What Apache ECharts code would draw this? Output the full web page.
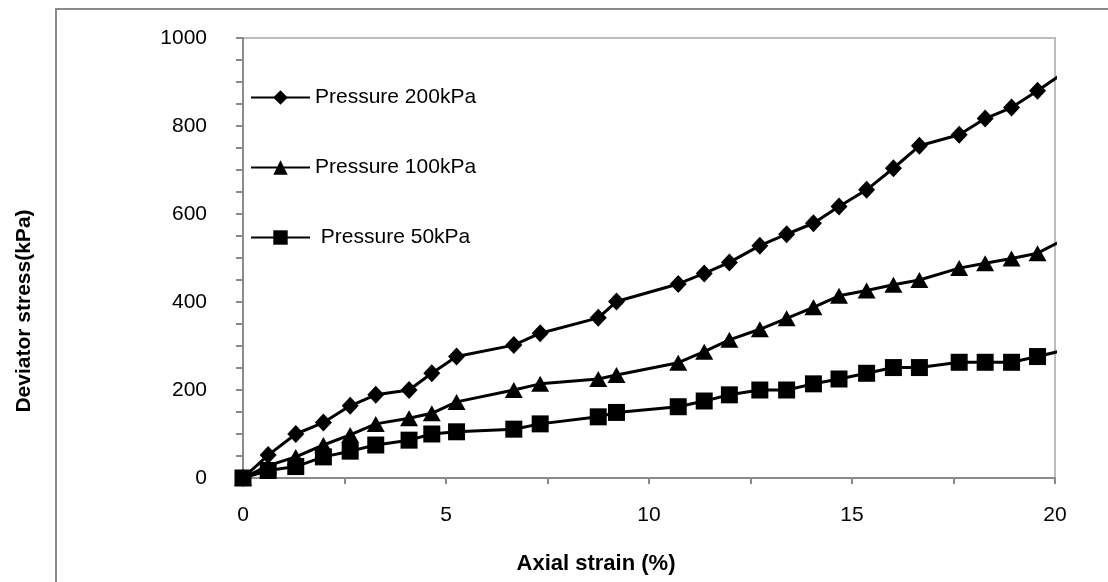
<!DOCTYPE html>
<html>
<head>
<meta charset="utf-8">
<script src="https://cdn.jsdelivr.net/npm/echarts@6/dist/echarts.min.js"></script>
<style>
  html, body { margin: 0; padding: 0; background: #fff; }
  #chart { width: 1108px; height: 582px; }
</style>
</head>
<body>
<div id="chart"></div>
<script>
// axial strain (%) shared by the three tests; last point lies just past the axis end
const strain = [0, 0.62, 1.30, 1.98, 2.64, 3.27, 4.09, 4.65, 5.26, 6.67, 7.32, 8.75, 9.20,
  10.72, 11.36, 11.98, 12.73, 13.39, 14.05, 14.68, 15.36, 16.02, 16.66, 17.64, 18.28, 18.93, 19.57, 20.2]

// deviator stress (kPa)
const stress200 = [0, 52, 100, 126, 164, 189, 200, 238, 276, 302, 329, 364, 401,
  441, 465, 490, 528, 554, 579, 617, 655, 704, 755, 780, 817, 842, 880, 920]
const stress100 = [0, 28, 48, 75, 98, 123, 136, 147, 173, 200, 214, 225, 234,
  262, 287, 314, 338, 363, 388, 414, 426, 439, 450, 477, 488, 499, 511, 541]
const stress50 = [0, 17, 26, 48, 61, 75, 86, 100, 105, 111, 123, 139, 149,
  162, 175, 189, 200, 200, 214, 225, 238, 251, 251, 263, 263, 263, 276, 290]

const seriesNames = ['Pressure 200kPa', 'Pressure 100kPa', ' Pressure 50kPa']
const xTicks = [0, 5, 10, 15, 20]
const yTicks = [0, 200, 400, 600, 800, 1000]

const FONT = "'Liberation Sans', Arial, sans-serif"
const AXIS_GREY = '#8a8a8a'

const pairs = (ys) => strain.map((x, i) => [x, ys[i]])

const makeSeries = (name, ys, symbol, size) => ({
  name: name,
  type: 'line',
  data: pairs(ys),
  symbol: symbol,
  symbolSize: size,
  clip: true,
  lineStyle: { color: '#000', width: 3 },
  itemStyle: { color: '#000' }
})

const chart = echarts.init(document.getElementById('chart'))

chart.setOption({
  animation: false,
  backgroundColor: '#fff',
  grid: {
    left: 243, right: 53, top: 38, bottom: 104,
    show: true, borderColor: '#bdbdbd', borderWidth: 2
  },
  legend: {
    orient: 'vertical',
    left: 245,
    top: 82,
    itemWidth: 59,
    itemHeight: 18,
    itemGap: 49,
    data: seriesNames,
    textStyle: { fontFamily: FONT, fontSize: 21, color: '#000' }
  },
  xAxis: {
    type: 'value',
    min: xTicks[0],
    max: xTicks[xTicks.length - 1],
    interval: 5,
    axisLine: { lineStyle: { color: AXIS_GREY, width: 2 } },
    axisTick: { show: true, length: 6, lineStyle: { color: AXIS_GREY, width: 2 } },
    minorTick: { show: true, splitNumber: 2, length: 6, lineStyle: { color: AXIS_GREY, width: 2 } },
    splitLine: { show: false },
    axisLabel: { fontFamily: FONT, fontSize: 21, color: '#000', margin: 27 }
  },
  yAxis: {
    type: 'value',
    min: yTicks[0],
    max: yTicks[yTicks.length - 1],
    interval: 200,
    axisLine: { show: true, lineStyle: { color: AXIS_GREY, width: 2 } },
    axisTick: { show: true, length: 7, lineStyle: { color: AXIS_GREY, width: 2 } },
    minorTick: { show: true, splitNumber: 4, length: 7, lineStyle: { color: AXIS_GREY, width: 2 } },
    splitLine: { show: false },
    axisLabel: {
      fontFamily: FONT, fontSize: 21, color: '#000', margin: 36,
      formatter: (v) => String(v)
    }
  },
  graphic: [
    {
      type: 'rect',
      shape: { x: 56, y: 9, width: 1200, height: 700 },
      style: { fill: null, stroke: AXIS_GREY, lineWidth: 2 },
      silent: true
    },
    {
      type: 'text',
      x: 24, y: 311,
      rotation: Math.PI / 2,
      style: {
        text: 'Deviator stress(kPa)',
        fontFamily: FONT, fontSize: 21, fontWeight: 'bold', fill: '#000',
        align: 'center', verticalAlign: 'middle'
      }
    },
    {
      type: 'text',
      x: 596, y: 564,
      style: {
        text: 'Axial strain (%)',
        fontFamily: FONT, fontSize: 22, fontWeight: 'bold', fill: '#000',
        align: 'center', verticalAlign: 'middle'
      }
    }
  ],
  series: [
    makeSeries(seriesNames[0], stress200, 'diamond', [17, 18]),
    makeSeries(seriesNames[1], stress100, 'triangle', [18, 16]),
    makeSeries(seriesNames[2], stress50, 'rect', 17)
  ]
})
</script>
</body>
</html>
